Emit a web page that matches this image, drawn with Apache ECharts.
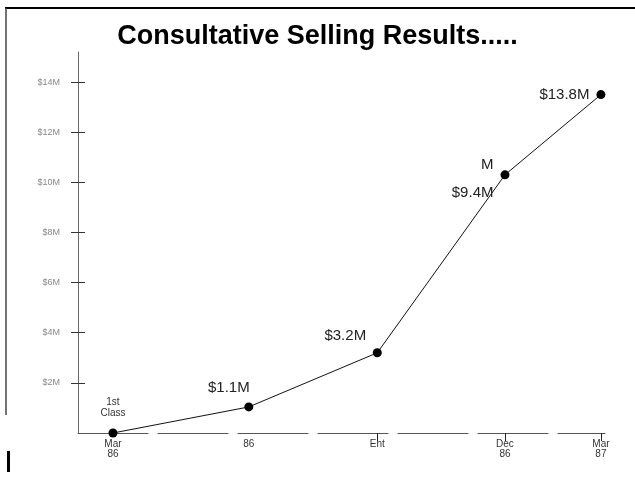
<!DOCTYPE html>
<html><head><meta charset="utf-8">
<script src="https://cdn.jsdelivr.net/npm/echarts@6/dist/echarts.min.js"></script>
<style>html,body{margin:0;padding:0;background:#fff}#c{width:635px;height:481px}</style>
</head><body><div id="c"></div>
<script>
// Data (x in months from Mar 86, y in $M)
var xMonths = [0, 3.34, 6.5, 9.64, 12];
var yValues = [0, 1.04, 3.2, 10.3, 13.5];
var pointLabels = ['1st\nClass', '$1.1M', '$3.2M', 'M\n$9.4M', '$13.8M'];
var xTickLabels = ['Mar\n86', '86', 'Ent', 'Dec\n86', 'Mar\n87'];
var yTicks = [2, 4, 6, 8, 10, 12, 14];
var title = 'Consultative Selling Results.....';

// label layout (style only)
var labelLayout = [
  {position: 'top', distance: 10, fontSize: 10, lineHeight: 11, color: '#333'},
  {position: 'top', offset: [-20, -2], fontSize: 15, color: '#222'},
  {position: 'top', offset: [-32, 0], fontSize: 15, color: '#222'},
  {position: 'left', offset: [-2, 4], fontSize: 15, lineHeight: 28, color: '#222'},
  {position: 'left', offset: [-2, 0], fontSize: 15, color: '#222'}
];

var data = xMonths.map(function (x, i) {
  var l = labelLayout[i];
  return {
    value: [x, yValues[i]],
    label: Object.assign({show: true, formatter: pointLabels[i], fontFamily: 'Liberation Sans'}, l)
  };
});

var chart = echarts.init(document.getElementById('c'), null, {renderer: 'canvas'});
chart.setOption({
  animation: false,
  backgroundColor: '#fff',
  title: {
    text: title, left: 'center', top: 18,
    textStyle: {fontFamily: 'Liberation Sans', fontWeight: 'bold', fontSize: 27, color: '#000'}
  },
  grid: {left: 78, right: 30, top: 52, bottom: 48},
  xAxis: {
    type: 'value', min: -0.86, max: 12.1,
    splitLine: {show: false},
    axisLine: {onZero: false, lineStyle: {color: '#555', width: 1, type: [70, 10]}},
    axisTick: {show: true, customValues: xMonths.slice(2), length: 8, inside: false, lineStyle: {color: '#222'}},
    axisLabel: {
      customValues: xMonths, margin: 6, color: '#333', fontSize: 10, lineHeight: 10,
      fontFamily: 'Liberation Sans',
      formatter: function (v) { var i = xMonths.indexOf(v); return i >= 0 ? xTickLabels[i] : ''; }
    }
  },
  yAxis: [{
    type: 'value', min: 0, max: 15.2,
    splitLine: {show: false},
    axisLine: {show: true, onZero: false, lineStyle: {color: '#666', width: 1}},
    axisTick: {show: true, customValues: yTicks, length: 7, lineStyle: {color: '#333'}},
    axisLabel: {
      customValues: yTicks, margin: 18, color: '#888', fontSize: 9,
      fontFamily: 'Liberation Sans',
      formatter: function (v) { return '$' + v + 'M'; }
    }
  }, {
    type: 'value', min: 0, max: 15.2, position: 'left',
    splitLine: {show: false},
    axisLine: {show: false, onZero: false},
    axisTick: {show: true, inside: true, customValues: yTicks, length: 7, lineStyle: {color: '#333'}},
    axisLabel: {show: false}
  }],
  series: [{
    type: 'line', data: data, symbol: 'circle', symbolSize: 9,
    itemStyle: {color: '#000'},
    lineStyle: {color: '#111', width: 1}
  }],
  graphic: [
    {type: 'line', shape: {x1: 5, y1: 8, x2: 635, y2: 8}, style: {stroke: '#000', lineWidth: 2}},
    {type: 'line', shape: {x1: 6, y1: 8, x2: 6, y2: 415}, style: {stroke: '#444', lineWidth: 1.5}},
    {type: 'rect', shape: {x: 7, y: 451, width: 3, height: 21}, style: {fill: '#000'}}
  ]
});
</script></body></html>
